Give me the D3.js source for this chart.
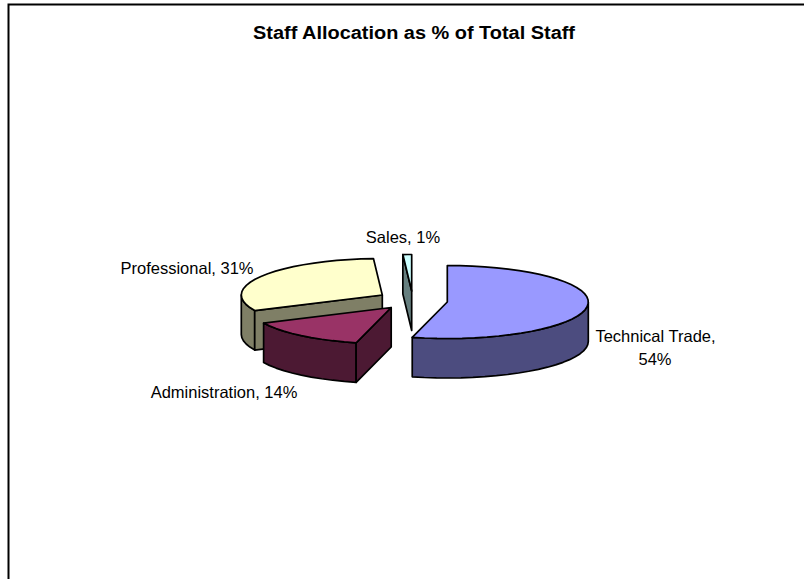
<!DOCTYPE html>
<html><head><meta charset="utf-8">
<script src="https://cdn.jsdelivr.net/npm/d3@7"></script>
<style>html,body{margin:0;padding:0;background:#fff}svg{display:block}text{font-family:"Liberation Sans",Arial,sans-serif;fill:#000}</style>
</head><body><svg id="c" width="804" height="579"></svg>
<script>
const titleText = "Staff Allocation as % of Total Staff";
const categories = ["Technical Trade", "Administration", "Professional", "Sales"];
const shares = [54, 14, 31, 1];
const topColors = ["#9999ff", "#993366", "#ffffcc", "#ccffff"];
const wallColors = ["#4c4c7f", "#4c1933", "#7f7f66", "#667f7f"];
const centres = [[447.3,302],[391.2,307.5],[382.3,295],[411.7,291]];
const labelLines = [
  [["Technical Trade,",655.5,342],["54%",655,364.5]],
  [["Administration, 14%",224,398.3]],
  [["Professional, 31%",187,274]],
  [["Sales, 1%",403,243]]
];
const rx=141, ry=36.5, depth=39.5;
const svg=d3.select("#c");
svg.append("path").attr("d","M8.5 579V4.5H804").attr("fill","none").attr("stroke","#000").attr("stroke-width",2);
svg.append("text").attr("x",414).attr("y",38.5).attr("text-anchor","middle").attr("font-size",18).attr("font-weight","bold").attr("textLength",322).attr("lengthAdjust","spacingAndGlyphs").text(titleText);

const arcs=d3.pie().sort(null)(shares);
const line=d3.line();
const pt=(c,a)=>[c[0]+rx*Math.sin(a),c[1]-ry*Math.cos(a)];
const down=p=>[p[0],p[1]+depth];
const rim=(c,a0,a1)=>d3.range(0,1.0001,1/Math.max(2,Math.ceil((a1-a0)/0.09))).map(t=>pt(c,a0+(a1-a0)*t));
const g=svg.append("g").attr("stroke","#000").attr("stroke-width",1.7).attr("stroke-linejoin","round");
function wall(pts,col){g.append("path").attr("d",line(pts)+"Z").attr("fill",col);}
function slice(i){
  const c=centres[i],a0=arcs[i].startAngle,a1=arcs[i].endAngle,r=rim(c,a0,a1);
  const f0=Math.max(a0,Math.PI/2),f1=Math.min(a1,Math.PI*1.5);
  if(f1>f0){const o=rim(c,f0,f1);wall(o.concat(o.map(down).reverse()),wallColors[i]);}
  const cut=a=>{const p=pt(c,a);wall([c,p,down(p),down(c)],wallColors[i]);};
  if(i===1||i===2||i===3)cut(a0);
  g.append("path").attr("d",line([c].concat(r))+"Z").attr("fill",topColors[i]);
}
[2,3,1,0].forEach(slice);
labelLines.forEach(ls=>ls.forEach(([t,x,y])=>svg.append("text").attr("x",x).attr("y",y).attr("text-anchor","middle").attr("font-size",16.5).text(t)));
</script></body></html>
